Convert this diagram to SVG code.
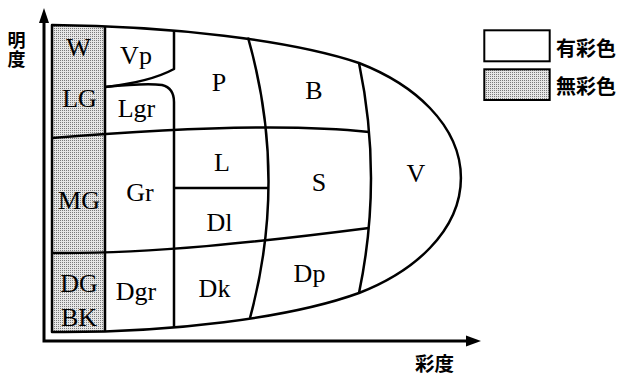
<svg xmlns="http://www.w3.org/2000/svg" width="621" height="376" viewBox="0 0 621 376">
  <style>
    .ln { fill: none; stroke: #000; stroke-width: 2.5; stroke-linejoin: round; }
    .axis { fill: none; stroke: #000; stroke-width: 3; stroke-linejoin: miter; }
    .lbl { font-family: "Liberation Serif", "Times New Roman", serif; font-size: 26px; fill: #000; text-anchor: middle; }
    .jp { font-family: "Noto Sans CJK JP", "Noto Sans CJK SC", sans-serif; font-size: 20px; font-weight: bold; fill: #000; }
    .box { stroke: #000; stroke-width: 2; }
  </style>
  <defs>
    <pattern id="dots" width="2" height="2" patternUnits="userSpaceOnUse">
      <rect width="2" height="2" fill="#e6e6e6"/>
      <rect width="1" height="1" fill="#7a7a7a"/>
    </pattern>
  </defs>

  <rect width="621" height="376" fill="#fff"/>

  <!-- axes -->
  <g id="axes">
    <path class="axis" d="M44,22 V341 H467"/>
    <polygon points="44,8 39,23 49,23" fill="#000"/>
    <polygon points="481,341 466,335.5 466,346.5" fill="#000"/>
    <text class="jp" x="16.5" y="31" writing-mode="vertical-rl" letter-spacing="1" style="font-size:18px">明度</text>
    <text class="jp" x="415" y="371" style="font-size:19.5px">彩度</text>
  </g>

  <!-- achromatic column -->
  <g id="achromatic">
    <polygon points="52,25 105,26.3 105,331.4 52,332" fill="url(#dots)"/>
  </g>

  <!-- region boundaries -->
  <g id="connectors">
    <!-- outer outline -->
    <path class="ln" d="M52,25 C170,26 290,40 359,63 A214,135 0 0 1 359,293 C290,318 170,333 52,332 Z"/>
    <!-- achromatic column edge -->
    <path class="ln" d="M105,26.3 V331.4"/>
    <!-- Vp / Lgr -->
    <path class="ln" d="M174,30.7 V69 Q150,82 105,87"/>
    <path class="ln" d="M105,87 Q145,83 162,85 Q174,88 174,102 V327.5"/>
    <!-- curved hue-tone dividers -->
    <path class="ln" d="M248,37.5 Q288,178 250,318"/>
    <path class="ln" d="M359,63 Q383,178 359,293"/>
    <!-- lightness dividers -->
    <path class="ln" d="M52,138 C150,130 280,122 369,132"/>
    <path class="ln" d="M52,253 C150,254 260,242 369,228"/>
    <path class="ln" d="M174,188 H268"/>
  </g>

  <g id="W"><text class="lbl" x="78.5" y="56">W</text></g>
  <g id="LG"><text class="lbl" x="79.5" y="107">LG</text></g>
  <g id="MG"><text class="lbl" x="79" y="209">MG</text></g>
  <g id="DG-BK">
    <text class="lbl" x="79" y="292">DG</text>
    <text class="lbl" x="79" y="326">BK</text>
  </g>
  <g id="Vp"><text class="lbl" x="136" y="64">Vp</text></g>
  <g id="Lgr"><text class="lbl" x="136.5" y="117">Lgr</text></g>
  <g id="Gr"><text class="lbl" x="140" y="201">Gr</text></g>
  <g id="Dgr"><text class="lbl" x="136" y="300">Dgr</text></g>
  <g id="P"><text class="lbl" x="219" y="91">P</text></g>
  <g id="L"><text class="lbl" x="222" y="171">L</text></g>
  <g id="Dl"><text class="lbl" x="219.5" y="231">Dl</text></g>
  <g id="Dk"><text class="lbl" x="214.5" y="297">Dk</text></g>
  <g id="B"><text class="lbl" x="314" y="99">B</text></g>
  <g id="S"><text class="lbl" x="319" y="191">S</text></g>
  <g id="Dp"><text class="lbl" x="309.5" y="282">Dp</text></g>
  <g id="V"><text class="lbl" x="416" y="182">V</text></g>

  <!-- legend -->
  <g id="legend-chromatic">
    <rect class="box" x="484.3" y="30.3" width="65.4" height="31" fill="#fff"/>
    <text class="jp" x="556" y="55.6">有彩色</text>
  </g>
  <g id="legend-achromatic">
    <rect class="box" x="484.3" y="69.3" width="65.4" height="30.7" fill="url(#dots)"/>
    <text class="jp" x="556" y="93.6">無彩色</text>
  </g>
</svg>
